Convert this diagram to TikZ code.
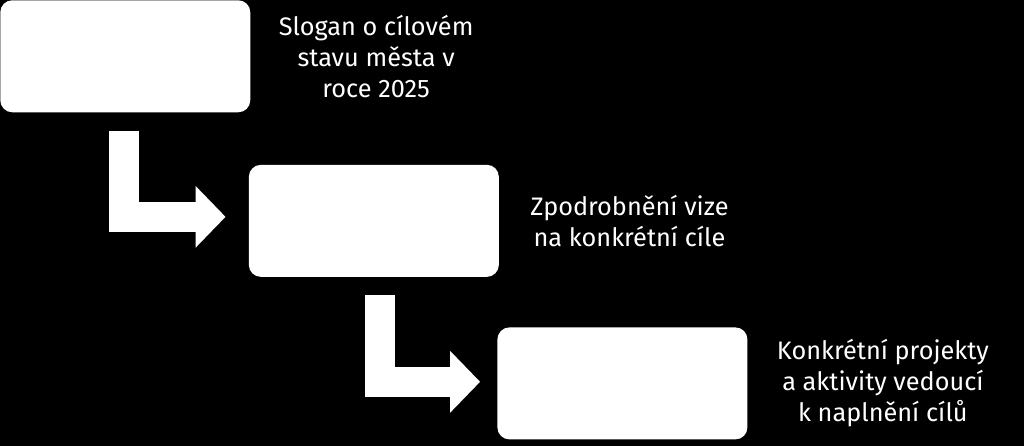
\documentclass[tikz,border=0pt]{standalone}
\usepackage{fontspec}
\setmainfont{Fira Sans}
\usetikzlibrary{positioning,arrows.meta}

\begin{document}
\begin{tikzpicture}[
		box/.style={fill=white, rounded corners=0.3cm, minimum width=6.25cm, minimum height=2.8cm, inner sep=0pt},
		label/.style={text=white, align=center, inner sep=0pt, font=\fontsize{18}{22}\selectfont},
		bentarrow/.style={draw=white, line width=0.75cm, -{Triangle[length=0.75cm 0 0, width=1.5cm 0 0]}}
	]
			\fill[black] (0,0) rectangle (25.6,-11.15);
			\useasboundingbox (0,0) rectangle (25.6,-11.15);
			\node[box, anchor=north west] (vision) at (0,0) {};
			\node[box, below right=1.3cm and -0.05cm of vision] (goals) {};
			\node[box, below right=1.25cm and -0.05cm of goals] (projects) {};
			\node[label, right=0.7cm of vision] (visiontext) {Slogan o cílovém\\stavu města v\\roce 2025};
			\node[label, right=0.775cm of goals] (goalstext) {Zpodrobnění vize\\na konkrétní cíle};
			\node[label, right=0.725cm of projects] (projectstext) {Konkrétní projekty\\a aktivity vedoucí\\k naplnění cílů};
			% bent arrows between the boxes
			\coordinate (a1) at ([shift={(-0.04,-0.45)}]vision.south);
			\coordinate (b1) at ([shift={(-0.575,0.1)}]goals.west);
			\coordinate (a2) at ([shift={(0.16,-0.45)}]goals.south);
			\coordinate (b2) at ([shift={(-0.425,0.04)}]projects.west);
			\draw[bentarrow] (a1) |- (b1);
			\draw[bentarrow] (a2) |- (b2);
		\end{tikzpicture}
\end{document}
